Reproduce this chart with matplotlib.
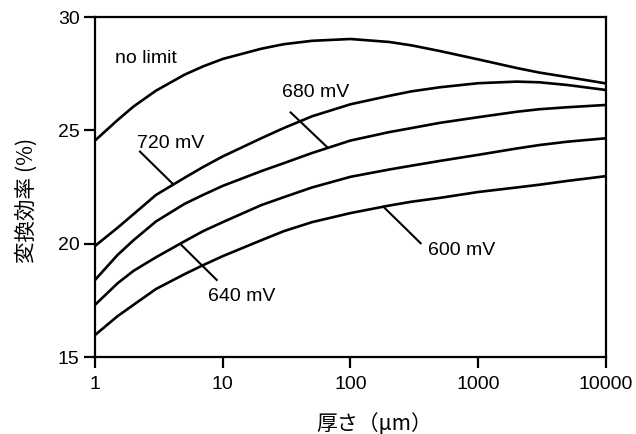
"""Conversion efficiency vs. thickness for several Voc limits."""

import matplotlib
matplotlib.use('Agg')
import matplotlib.pyplot as plt

THICKNESS = [1, 1.5, 2, 3, 5, 7, 10, 20, 30, 50, 100, 200, 300, 500,
             1000, 2000, 3000, 5000, 10000]

EFF_NO_LIMIT = [24.55, 25.45, 26.05, 26.75, 27.45, 27.82, 28.15, 28.6, 28.8, 28.95,
                29.03, 28.9, 28.75, 28.5, 28.13, 27.75, 27.55, 27.35, 27.07]
EFF_720 = [19.9, 20.7, 21.3, 22.15, 22.9, 23.38, 23.85, 24.65, 25.1, 25.62,
           26.15, 26.52, 26.72, 26.9, 27.08, 27.15, 27.12, 27.0, 26.78]
EFF_680 = [18.4, 19.5, 20.15, 20.98, 21.75, 22.15, 22.55, 23.2, 23.55, 24.0,
           24.55, 24.92, 25.1, 25.33, 25.58, 25.82, 25.93, 26.02, 26.12]
EFF_640 = [17.3, 18.25, 18.8, 19.4, 20.1, 20.55, 20.95, 21.7, 22.05, 22.48,
           22.95, 23.27, 23.44, 23.65, 23.92, 24.2, 24.35, 24.5, 24.65]
EFF_600 = [15.97, 16.8, 17.3, 18.0, 18.65, 19.05, 19.45, 20.15, 20.55, 20.95,
           21.35, 21.68, 21.85, 22.02, 22.28, 22.48, 22.6, 22.77, 22.98]

SERIES = [EFF_NO_LIMIT, EFF_720, EFF_680, EFF_640, EFF_600]
X_TICKS = [1, 10, 100, 1000, 10000]
X_TICK_LABELS = ['1', '10', '100', '1000', '10000']
Y_TICKS = [15, 20, 25, 30]

plt.rcParams['font.family'] = ['Liberation Sans', 'DejaVu Sans']
JP_FONT = ['Noto Sans CJK JP', 'DejaVu Sans']


def main():
    fig = plt.figure(figsize=(6.36, 4.34), dpi=100)
    ax = fig.add_axes([0.1494, 0.1774, 0.8034, 0.7834])

    for eff in SERIES:
        ax.plot(THICKNESS, eff, color='black', linewidth=1.9,
                solid_capstyle='round', solid_joinstyle='round')

    # labels with leader lines
    ax.text(1.43, 28.15, 'no limit', fontsize=14, va='center', ha='left')
    ax.text(2.12, 24.44, '720 mV', fontsize=14, va='center', ha='left')
    ax.text(29.1, 26.67, '680 mV', fontsize=14, va='center', ha='left')
    ax.text(7.67, 17.69, '640 mV', fontsize=14, va='center', ha='left')
    ax.text(404, 19.70, '600 mV', fontsize=14, va='center', ha='left')
    ax.plot([2.25, 4.08], [24.06, 22.63], color='black', linewidth=1.5)
    ax.plot([34.0, 65.1], [25.79, 24.28], color='black', linewidth=1.5)
    ax.plot([4.69, 8.97], [19.97, 18.40], color='black', linewidth=1.5)
    ax.plot([181, 354], [21.63, 20.02], color='black', linewidth=1.5)

    ax.set_xscale('log')
    ax.set_xlim(1, 10000)
    ax.set_ylim(15, 30)
    ax.set_xticks(X_TICKS)
    ax.set_xticklabels(X_TICK_LABELS)
    ax.set_yticks(Y_TICKS)
    ax.minorticks_off()
    ax.tick_params(axis='x', direction='out', length=8, width=1.6, pad=6, labelsize=14)
    ax.tick_params(axis='y', direction='out', length=8, width=1.6, pad=3, labelsize=14)
    for spine in ax.spines.values():
        spine.set_linewidth(1.6)

    ax.set_xlabel('厚さ（μm）', fontsize=15, family=JP_FONT)
    ax.xaxis.set_label_coords(0.547, -0.165)
    ax.set_ylabel('変換効率 (%)', fontsize=15.5, family=JP_FONT)
    ax.yaxis.set_label_coords(-0.112, 0.462)

    fig.savefig('out.png', dpi=100)


if __name__ == '__main__':
    main()
